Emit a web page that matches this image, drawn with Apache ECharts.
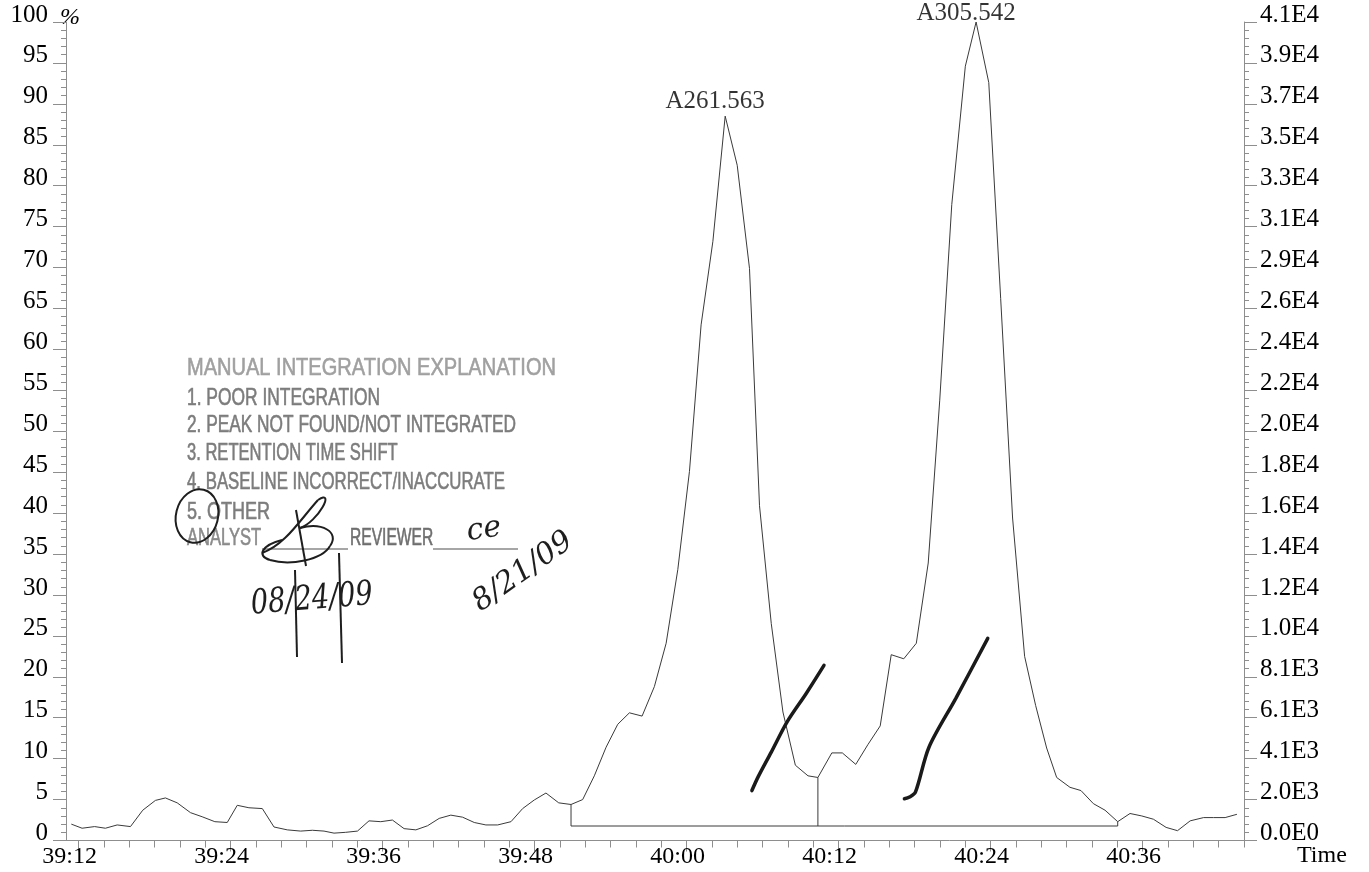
<!DOCTYPE html>
<html>
<head>
<meta charset="utf-8">
<script src="https://cdn.jsdelivr.net/npm/echarts@6.0.0/dist/echarts.min.js"></script>
<style>
html,body{margin:0;padding:0;background:#ffffff;}
#chart{width:1369px;height:872px;}
</style>
</head>
<body>
<div id="chart"></div>
<script>
// ---- data (time in seconds, intensity in % of largest peak) ----
const timesSec = [
  2351.42,2352.27,2353.26,2354.11,2355.04,2356.09,2357.06,2358.06,2358.85,2359.78,
  2360.83,2361.75,2362.75,2363.73,2364.52,2365.44,2366.50,2367.42,2368.47,2369.53,
  2370.45,2371.37,2372.16,2373.08,2374.01,2374.92,2375.85,2376.77,2377.69,2378.62,
  2379.54,2380.46,2381.38,2382.31,2383.23,2384.15,2385.08,2386.13,2387.05,2387.97,
  2388.89,2389.90,2390.87,2391.79,2392.71,2393.64,2394.56,2395.48,2396.48,2397.45,
  2398.38,2399.30,2400.22,2401.14,2402.07,2403.04,2403.99,2404.96,2405.75,2406.68,
  2407.60,2408.58,2409.58,2410.36,2411.46,2412.29,2413.35,2414.30,2415.28,2416.15,
  2417.14,2418.13,2419.07,2419.98,2420.93,2422.00,2422.85,2423.85,2424.79,2425.73,
  2426.68,2427.55,2428.42,2429.21,2430.26,2431.13,2432.11,2433.03,2434.03,2435.00,
  2435.93,2436.85,2437.85,2438.75,2439.75,2440.81,2441.60,2442.51,2443.44
];
const intensityPct = [
  2.0,1.5,1.7,1.5,1.9,1.7,3.7,4.9,5.2,4.6,
  3.4,2.9,2.3,2.2,4.3,4.0,3.9,1.65,1.3,1.15,
  1.25,1.15,0.9,1.0,1.15,2.4,2.3,2.5,1.45,1.3,
  1.8,2.7,3.1,2.85,2.2,1.9,1.9,2.3,3.9,4.95,
  5.8,4.6,4.4,5.0,7.9,11.4,14.2,15.6,15.2,18.8,
  24.1,33.1,45.1,63.0,73.2,88.5,82.5,69.9,40.9,26.5,
  15.7,9.2,7.9,7.7,10.7,10.7,9.3,11.7,14.0,22.7,
  22.2,24.1,33.9,53.8,77.7,94.6,100,92.6,66.2,39.4,
  22.5,16.5,11.3,7.7,6.5,6.1,4.5,3.7,2.3,3.3,
  3.0,2.6,1.6,1.2,2.4,2.8,2.8,2.8,3.2
];
const xTickLabels = ['39:12','39:24','39:36','39:48','40:00','40:12','40:24','40:36'];
const leftTickLabels = ['0','5','10','15','20','25','30','35','40','45','50','55','60','65','70','75','80','85','90','95','100'];
const rightTickLabels = ['0.0E0','2.0E3','4.1E3','6.1E3','8.1E3','1.0E4','1.2E4','1.4E4','1.6E4','1.8E4','2.0E4',
  '2.2E4','2.4E4','2.6E4','2.9E4','3.1E4','3.3E4','3.5E4','3.7E4','3.9E4','4.1E4'];
const peakNames = ['A261.563','A305.542'];
const peakTimes = [2403.04, 2422.85];
// integration baseline (times in s, level in %)
const baselineTimes = [2390.87, 2390.87, 2434.03, 2434.03];
const baselineVals  = [4.4, 1.77, 1.77, 2.3];
const dropTimes = [2410.36, 2410.36];
const dropVals  = [7.7, 1.77];
// hand-drawn pen strokes on the plot
const pen1Times = [2405.15, 2405.65, 2406.68, 2407.93, 2409.45, 2410.84];
const pen1Vals  = [6.1, 7.8, 10.8, 14.5, 18.0, 21.4];
const pen2Times = [2417.19, 2417.59, 2418.06, 2419.13, 2421.26, 2423.77];
const pen2Vals  = [5.1, 5.3, 5.9, 11.4, 17.4, 24.7];
// stamp text
const stampLines = [
  'MANUAL INTEGRATION EXPLANATION',
  '1. POOR INTEGRATION',
  '2. PEAK NOT FOUND/NOT INTEGRATED',
  '3. RETENTION TIME SHIFT',
  '4. BASELINE INCORRECT/INACCURATE',
  '5. OTHER'
];
const stampAnalyst = 'ANALYST';
const stampReviewer = 'REVIEWER';
const handDates = ['08/24/09', '8/21/09'];
const handInitials = 'ce';

// ---- helpers ----
const toSec = s => { const p = s.split(':'); return (+p[0]) * 60 + (+p[1]); };
const xTickValues = xTickLabels.map(toSec);
const X_MIN = 2351, X_MAX = 2444;
const minorTickValues = [];
for (let t = 2352; t <= X_MAX; t += 2) minorTickValues.push(t);
const pairs = (a, b) => a.map((v, i) => [v, b[i]]);
const valueAt = t => {
  let best = 0;
  timesSec.forEach((v, i) => { if (Math.abs(v - t) < Math.abs(timesSec[best] - t)) best = i; });
  return [timesSec[best], intensityPct[best]];
};

const serif = '"Liberation Serif", "Times New Roman", serif';
const axisGray = '#8e8e8e';
const ink = '#1e1e1e';
const stampFont = '24px "Liberation Sans", Arial, sans-serif';

const chart = echarts.init(document.getElementById('chart'), null, {renderer: 'canvas'});

const stampTop = 368, stampStep = [0, 30, 57, 85, 114, 144];
const stampScale = [0.835, 0.725, 0.72, 0.69, 0.70, 0.75];
const graphics = [];
stampLines.forEach((txt, i) => {
  graphics.push({
    type: 'text', x: 187, y: stampTop + stampStep[i], scaleX: stampScale[i], z: 10,
    style: {text: txt, font: stampFont, fill: i === 0 ? '#a0a0a0' : '#7c7c7c',
            stroke: i === 0 ? '#a0a0a0' : '#7c7c7c', lineWidth: 0.6,
            verticalAlign: 'middle', align: 'left'}
  });
});
const bez = (x1, y1, c1x, c1y, c2x, c2y, x2, y2) => ({
  type: 'bezierCurve', z: 11,
  shape: {x1: x1, y1: y1, cpx1: c1x, cpy1: c1y, cpx2: c2x, cpy2: c2y, x2: x2, y2: y2},
  style: {fill: 'none', stroke: ink, lineWidth: 2}
});
graphics.push(
  {type: 'text', x: 187, y: 538, scaleX: 0.69, z: 10,
   style: {text: stampAnalyst, font: stampFont, fill: '#8a8a8a', stroke: '#8a8a8a', lineWidth: 0.6, verticalAlign: 'middle'}},
  {type: 'text', x: 350, y: 538, scaleX: 0.65, z: 10,
   style: {text: stampReviewer, font: stampFont, fill: '#6e6e6e', stroke: '#6e6e6e', lineWidth: 0.6, verticalAlign: 'middle'}},
  {type: 'line', z: 10, shape: {x1: 262, y1: 549, x2: 348, y2: 549}, style: {stroke: '#888', lineWidth: 1.5}},
  {type: 'line', z: 10, shape: {x1: 433, y1: 549, x2: 518, y2: 549}, style: {stroke: '#888', lineWidth: 1.5}},
  // circle around "5."
  {type: 'ellipse', x: 197, y: 516, rotation: -0.25, z: 11,
   shape: {cx: 0, cy: 0, rx: 21, ry: 27}, style: {fill: 'none', stroke: ink, lineWidth: 2}},
  // analyst signature
  bez(262, 553, 285, 545, 300, 520, 318, 500),
  bez(318, 500, 336, 488, 318, 522, 300, 528),
  bez(300, 528, 322, 522, 340, 532, 330, 546),
  bez(330, 546, 322, 560, 290, 566, 270, 560),
  bez(270, 560, 256, 556, 262, 545, 282, 540),
  {type: 'line', z: 11, shape: {x1: 296, y1: 510, x2: 306, y2: 566}, style: {stroke: ink, lineWidth: 2}},
  {type: 'line', z: 11, shape: {x1: 295, y1: 570, x2: 297, y2: 657}, style: {stroke: ink, lineWidth: 2}},
  {type: 'line', z: 11, shape: {x1: 339, y1: 553, x2: 342, y2: 663}, style: {stroke: ink, lineWidth: 2}},
  {type: 'text', x: 312, y: 600, rotation: 0.08, scaleX: 0.8, z: 11,
   style: {text: handDates[0], font: 'italic 34px "DejaVu Serif", serif', fill: ink, align: 'center', verticalAlign: 'middle'}},
  {type: 'text', x: 484, y: 530, rotation: 0.15, z: 11,
   style: {text: handInitials, font: 'italic 30px "DejaVu Serif", serif', fill: ink, align: 'center', verticalAlign: 'middle'}},
  {type: 'text', x: 523, y: 572, rotation: 0.62, z: 11,
   style: {text: handDates[1], font: 'italic 30px "DejaVu Serif", serif', fill: ink, align: 'center', verticalAlign: 'middle'}}
);

const yLabelStyle = {fontFamily: serif, fontSize: 25, color: '#000', verticalAlign: 'bottom', lineHeight: 14};

const option = {
  animation: false,
  backgroundColor: '#ffffff',
  grid: {left: 66, right: 125, top: 22, bottom: 31.5, containLabel: false},
  xAxis: [
    {
      type: 'value', min: X_MIN, max: X_MAX,
      name: 'Time', nameLocation: 'end', nameGap: 53, nameMoveOverlap: false,
      nameTextStyle: {fontFamily: serif, fontSize: 24, color: '#000', verticalAlign: 'top', padding: [3, 0, 0, 0]},
      axisLine: {show: true, onZero: false, lineStyle: {color: axisGray, width: 1}},
      axisTick: {show: true, inside: false, length: 7, customValues: minorTickValues, lineStyle: {color: axisGray}},
      axisLabel: {
        show: true, customValues: xTickValues, margin: 4, padding: [0, 18, 0, 0],
        fontFamily: serif, fontSize: 24, color: '#000',
        formatter: v => { const i = xTickValues.indexOf(Math.round(v)); return i >= 0 ? xTickLabels[i] : ''; }
      },
      splitLine: {show: false}
    },
    {
      type: 'value', min: X_MIN, max: X_MAX, position: 'bottom',
      axisLine: {show: false, onZero: false},
      axisTick: {show: true, inside: false, length: 11, customValues: xTickValues, lineStyle: {color: axisGray}},
      axisLabel: {show: false},
      splitLine: {show: false}
    }
  ],
  yAxis: [
    {
      type: 'value', min: 0, max: 100, interval: 5, position: 'left',
      name: '%', nameLocation: 'end', nameGap: -8, nameMoveOverlap: false,
      nameTextStyle: {fontFamily: serif, fontSize: 24, color: '#000', fontStyle: 'italic', padding: [0, 0, 0, 8]},
      axisLine: {show: true, lineStyle: {color: axisGray, width: 1}},
      axisTick: {show: true, inside: false, length: 13, lineStyle: {color: axisGray}},
      minorTick: {show: true, splitNumber: 5, length: 5, lineStyle: {color: axisGray}},
      axisLabel: Object.assign({margin: 18, formatter: v => leftTickLabels[Math.round(v / 5)]}, yLabelStyle),
      splitLine: {show: false}
    },
    {
      type: 'value', min: 0, max: 100, interval: 5, position: 'right',
      axisLine: {show: true, lineStyle: {color: axisGray, width: 1}},
      axisTick: {show: true, inside: false, length: 13, lineStyle: {color: axisGray}},
      minorTick: {show: true, splitNumber: 5, length: 5, lineStyle: {color: axisGray}},
      axisLabel: Object.assign({margin: 16, formatter: v => rightTickLabels[Math.round(v / 5)]}, yLabelStyle),
      splitLine: {show: false}
    }
  ],
  series: [
    {
      name: 'chromatogram', type: 'line', xAxisIndex: 0, yAxisIndex: 0,
      data: pairs(timesSec, intensityPct), symbol: 'none', smooth: false,
      lineStyle: {color: '#3a3a3a', width: 1}, z: 3
    },
    {
      name: 'baseline', type: 'line', data: pairs(baselineTimes, baselineVals), symbol: 'none',
      lineStyle: {color: '#3a3a3a', width: 1}, z: 3
    },
    {
      name: 'drop', type: 'line', data: pairs(dropTimes, dropVals), symbol: 'none',
      lineStyle: {color: '#3a3a3a', width: 1}, z: 3
    },
    {
      name: 'pen1', type: 'line', data: pairs(pen1Times, pen1Vals), symbol: 'none', smooth: 0.3,
      lineStyle: {color: '#1a1a1a', width: 3.5, cap: 'round'}, z: 4
    },
    {
      name: 'pen2', type: 'line', data: pairs(pen2Times, pen2Vals), symbol: 'none', smooth: 0.3,
      lineStyle: {color: '#1a1a1a', width: 3.5, cap: 'round'}, z: 4
    },
    {
      name: 'peaks', type: 'scatter', symbolSize: 0, z: 5,
      data: peakTimes.map((t, i) => ({
        value: valueAt(t),
        label: {
          show: true, formatter: peakNames[i], position: 'top', distance: 2,
          offset: i === 1 ? [-10, 6] : [-10, 0],
          fontFamily: serif, fontSize: 25, color: '#000'
        }
      }))
    }
  ],
  graphic: graphics
};
chart.setOption(option);
</script>
</body>
</html>
